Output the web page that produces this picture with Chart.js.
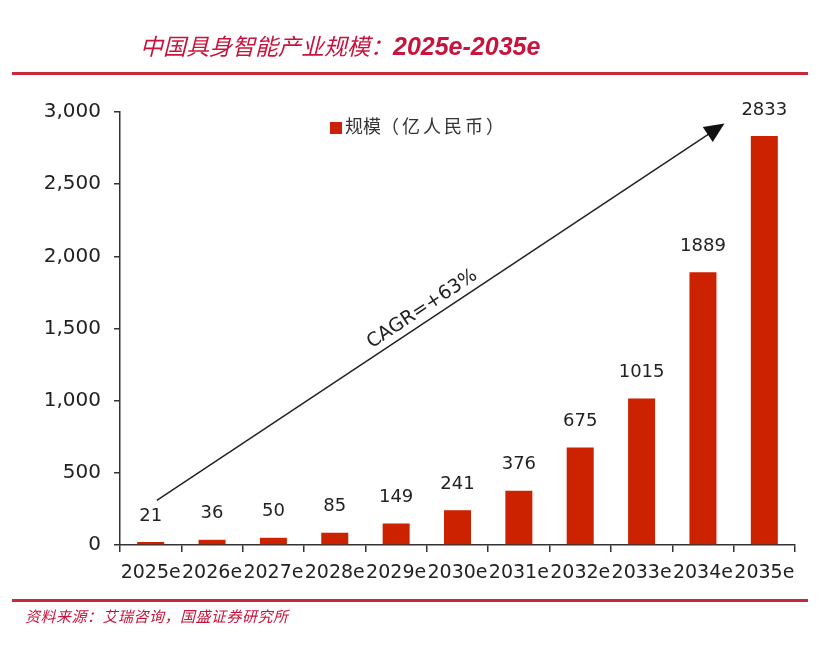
<!DOCTYPE html>
<html>
<head>
<meta charset="utf-8">
<script src="https://cdn.jsdelivr.net/npm/chart.js@4.4.1/dist/chart.umd.min.js"></script>
<style>
  html, body { margin: 0; padding: 0; background: #fff; }
  #wrap { position: relative; width: 831px; height: 649px; overflow: hidden; }
  #chart { position: absolute; left: 0; top: 0; }
  .title { position: absolute; left: 140px; top: 28px; font: italic 23px 'Noto Sans CJK SC', sans-serif; color: #C8143C; white-space: nowrap; }
  .title b { font-family: 'Liberation Sans', Arial, sans-serif; font-size: 25px; }
  .rule { position: absolute; left: 12px; width: 796px; height: 3px; background: #C8283C; }
  .legend { position: absolute; left: 330px; top: 112px; font: 18px 'Noto Sans CJK SC', serif; color: #333; white-space: nowrap; }
  .legend i { display: inline-block; width: 12px; height: 12px; background: #CC2200; margin-right: 3px; vertical-align: -1px; }
  .legend span { letter-spacing: 3px; }
  .source { position: absolute; left: 25px; top: 605px; font: italic 15px 'Noto Sans CJK SC', sans-serif; color: #C8143C; white-space: nowrap; letter-spacing: 0.5px; }
</style>
</head>
<body>
<div id="wrap">
  <canvas id="chart" width="831" height="649"></canvas>
  <div class="title">中国具身智能产业规模：<b>2025e-2035e</b></div>
  <div class="rule" style="top:72px"></div>
  <div class="rule" style="top:599px"></div>
  <div class="legend"><i></i>规模<span>（亿人民币）</span></div>
  <div class="source">资料来源：艾瑞咨询，国盛证券研究所</div>
</div>
<script>
// 数据
const years = ['2025e', '2026e', '2027e', '2028e', '2029e', '2030e', '2031e', '2032e', '2033e', '2034e', '2035e'];
const scale = [21, 36, 50, 85, 149, 241, 376, 675, 1015, 1889, 2833];
const yTicks = [0, 500, 1000, 1500, 2000, 2500, 3000];

// CAGR 箭头（按坐标轴取值）
const cagrFrom = { x: 0.1, y: 310 };
const cagrTo = { x: 9.35, y: 2920 };
const cagrText = 'CAGR=+63%';

const barColor = '#CC2200';
const fontLatin = "'DejaVu Sans', sans-serif";

// 柱顶数值
const valueLabels = {
  id: 'valueLabels',
  afterDatasetsDraw(chart) {
    const ctx = chart.ctx;
    const meta = chart.getDatasetMeta(0);
    ctx.save();
    ctx.font = '18px ' + fontLatin;
    ctx.fillStyle = '#222';
    ctx.textAlign = 'center';
    ctx.textBaseline = 'bottom';
    meta.data.forEach((bar, i) => {
      ctx.fillText(scale[i], bar.x, bar.y - 17);
    });
    ctx.restore();
  }
};

// 增长箭头
const cagrArrow = {
  id: 'cagrArrow',
  afterDatasetsDraw(chart) {
    const { ctx, scales: { x, y } } = chart;
    const x0 = x.getPixelForValue(cagrFrom.x), y0 = y.getPixelForValue(cagrFrom.y);
    const x1 = x.getPixelForValue(cagrTo.x), y1 = y.getPixelForValue(cagrTo.y);
    const ang = Math.atan2(y1 - y0, x1 - x0);
    ctx.save();
    ctx.strokeStyle = '#222';
    ctx.fillStyle = '#111';
    ctx.lineWidth = 1.5;
    ctx.beginPath();
    ctx.moveTo(x0, y0);
    ctx.lineTo(x1 - 14 * Math.cos(ang), y1 - 14 * Math.sin(ang));
    ctx.stroke();
    // 箭头
    ctx.translate(x1, y1);
    ctx.rotate(ang);
    ctx.beginPath();
    ctx.moveTo(0, 0);
    ctx.lineTo(-20, -9);
    ctx.lineTo(-20, 9);
    ctx.closePath();
    ctx.fill();
    ctx.restore();

    // 文字
    const t = 0.48;
    const mx = x0 + (x1 - x0) * t, my = y0 + (y1 - y0) * t;
    ctx.save();
    ctx.translate(mx, my);
    ctx.rotate(ang);
    ctx.font = '19px ' + fontLatin;
    ctx.fillStyle = '#222';
    ctx.textAlign = 'center';
    ctx.textBaseline = 'bottom';
    ctx.fillText(cagrText, 0, -3);
    ctx.restore();
  }
};

new Chart(document.getElementById('chart').getContext('2d'), {
  type: 'bar',
  data: {
    labels: years,
    datasets: [{
      label: '规模（亿人民币）',
      data: scale,
      backgroundColor: barColor,
      borderWidth: 0,
      categoryPercentage: 1,
      barPercentage: 0.44
    }]
  },
  options: {
    responsive: false,
    animation: false,
    layout: { padding: { top: 112, right: 36, bottom: 0, left: 0 } },
    plugins: {
      legend: { display: false },
      tooltip: { enabled: false }
    },
    scales: {
      x: {
        offset: true,
        border: { display: true, color: '#333', width: 1.5 },
        grid: { display: true, offset: true, drawOnChartArea: false, drawTicks: true, tickLength: 7, color: '#333', lineWidth: 1.5 },
        ticks: { color: '#222', font: { family: fontLatin, size: 19 }, padding: 10, maxRotation: 0, autoSkip: false },
        afterFit(s) { s.height = 104; }
      },
      y: {
        min: 0,
        max: 3000,
        afterBuildTicks(s) { s.ticks = yTicks.map(v => ({ value: v })); },
        border: { display: true, color: '#333', width: 1.5 },
        grid: { display: true, drawOnChartArea: false, drawTicks: true, tickLength: 6, color: '#333', lineWidth: 1.5 },
        ticks: {
          color: '#222',
          font: { family: fontLatin, size: 20 },
          padding: 13,
          callback: v => v.toLocaleString('en-US')
        },
        afterFit(s) { s.width = 120; }
      }
    }
  },
  plugins: [valueLabels, cagrArrow]
});
</script>
</body>
</html>
